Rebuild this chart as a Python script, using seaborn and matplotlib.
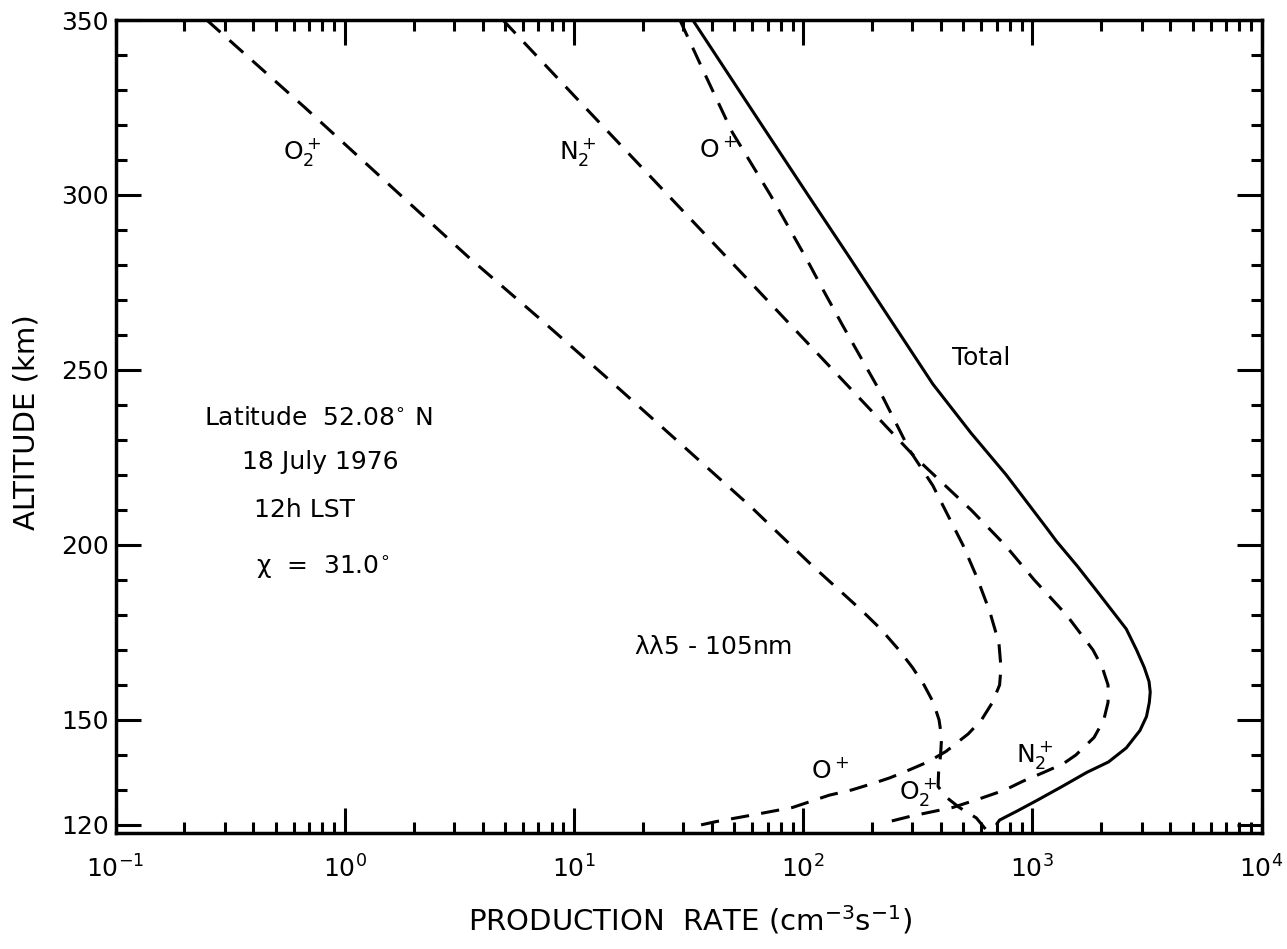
import matplotlib
matplotlib.use("Agg")
import matplotlib.pyplot as plt
import seaborn as sns
import pandas as pd
from matplotlib.ticker import LogLocator, MultipleLocator, FixedLocator, NullFormatter

# altitude (km) / production rate (cm-3 s-1)
o2p_alt = [350, 325, 300, 282, 265, 248, 230, 211, 203, 194, 186, 181, 176, 170, 165,
           160, 155, 150, 145, 140, 135, 131, 128, 125, 122, 118]
o2p_rate = [0.25, 0.67, 1.75, 3.5, 7.0, 13.8, 28, 59, 79, 110, 150, 182, 218, 262, 300,
            337, 370, 392, 402, 398, 390, 388, 420, 480, 570, 640]

op_alt = [350, 335, 318, 300, 282, 273, 263, 244, 227, 217, 200, 191, 181, 172, 165,
          160, 155, 150, 146, 141, 138, 135.7, 133.5, 132, 130, 128.5, 125, 123, 121, 119.5]
op_rate = [29, 37, 49, 72, 103, 122, 148, 216, 292, 368, 498, 571, 652, 715, 730,
           720, 670, 600, 525, 420, 350, 290, 240, 205, 163, 130, 90, 62, 42, 33]

n2p_alt = [350, 325, 300, 275, 250, 225, 210, 200, 190, 180, 170, 165, 160, 155, 150,
           145, 140, 137.5, 135, 132.5, 130, 127.5, 125, 122.5, 120.5]
n2p_rate = [4.9, 11.2, 25.7, 59, 135, 309, 541, 760, 1020, 1410, 1840, 2020, 2140, 2140, 2050,
            1860, 1550, 1365, 1120, 910, 760, 590, 450, 295, 223]

total_alt = [350, 320, 300, 282, 265, 246, 232, 220, 205, 201, 194, 187, 176, 170, 165,
             161, 158, 155, 151, 147, 142, 138, 135, 131, 127, 124, 121.4, 120.3]
total_rate = [33, 66, 105, 160, 237, 368, 540, 770, 1150, 1277, 1570, 1905, 2570, 2850, 3080,
              3230, 3270, 3240, 3150, 2950, 2570, 2150, 1727, 1350, 1047, 860, 720, 700]

x_ticks = [1e-1, 1e0, 1e1, 1e2, 1e3, 1e4]
y_ticks = [120, 150, 200, 250, 300, 350]

sns.set_style("ticks")
plt.rcParams["font.family"] = ["DejaVu Sans"]
plt.rcParams["mathtext.default"] = "regular"
plt.rcParams["text.color"] = "black"
plt.rcParams["axes.labelcolor"] = "black"

fig = plt.figure(figsize=(12.87, 9.49), dpi=100)
ax = fig.add_axes([115.5 / 1287, 1 - 833 / 949, 1146 / 1287, 813 / 949])

dash = (6, 4)
for alt, rate in [(o2p_alt, o2p_rate), (op_alt, op_rate), (n2p_alt, n2p_rate)]:
    df = pd.DataFrame({"rate": rate, "alt": alt})
    line = sns.lineplot(data=df, x="rate", y="alt", sort=False, ax=ax,
                        color="black", linewidth=2.2, estimator=None)
    line.lines[-1].set_dashes(dash)

df_tot = pd.DataFrame({"rate": total_rate, "alt": total_alt})
sns.lineplot(data=df_tot, x="rate", y="alt", sort=False, ax=ax,
             color="black", linewidth=2.2, estimator=None)

ax.set_xscale("log")
ax.set_xlim(1e-1, 1e4)
ax.set_ylim(117.7, 350)
ax.xaxis.set_major_locator(FixedLocator(x_ticks))
ax.xaxis.set_minor_locator(LogLocator(base=10, subs=range(2, 10), numticks=20))
ax.xaxis.set_minor_formatter(NullFormatter())
ax.yaxis.set_major_locator(FixedLocator(y_ticks))
ax.yaxis.set_minor_locator(MultipleLocator(10))

ax.tick_params(which="both", direction="in", top=True, right=True, width=2.2,
               labelsize=18, colors="black")
ax.tick_params(which="major", length=18)
ax.tick_params(which="minor", length=8)
ax.tick_params(axis="x", which="major", pad=16)
ax.tick_params(axis="y", which="major", pad=5)
for sp in ax.spines.values():
    sp.set_linewidth(2.5)
    sp.set_color("black")
ax.set_xlabel("")
ax.set_ylabel("")

fig.text(27 / 1287, 1 - 422 / 949, "ALTITUDE (km)", rotation=90, ha="center",
         va="center", fontsize=21)
fig.text(690 / 1287, 1 - 920 / 949, "PRODUCTION  RATE (cm$^{-3}$s$^{-1}$)",
         ha="center", va="center", fontsize=21)

fs = 18
ax.text(0.65, 312.3, "$O_2^+$", ha="center", va="center", fontsize=fs)
ax.text(10.4, 312.3, "$N_2^+$", ha="center", va="center", fontsize=fs)
ax.text(42.5, 312.9, "$O^+$", ha="center", va="center", fontsize=fs)
ax.text(601, 253.4, "Total", ha="center", va="center", fontsize=fs)
ax.text(0.764, 236.3, "Latitude  52.08$^{\\circ}$ N", ha="center", va="center", fontsize=fs)
ax.text(0.78, 223.7, "18 July 1976", ha="center", va="center", fontsize=fs)
ax.text(0.67, 210.0, "12h LST", ha="center", va="center", fontsize=fs)
ax.text(0.80, 193.7, "$\\chi$  =  31.0$^{\\circ}$", ha="center", va="center", fontsize=fs)
ax.text(40.4, 170.9, "$\\lambda\\lambda$5 - 105nm", ha="center", va="center", fontsize=fs)
ax.text(131, 135.7, "$O^+$", ha="center", va="center", fontsize=fs)
ax.text(316, 129.4, "$O_2^+$", ha="center", va="center", fontsize=fs)
ax.text(1023, 140, "$N_2^+$", ha="center", va="center", fontsize=fs)

fig.savefig("out.png", dpi=100)
